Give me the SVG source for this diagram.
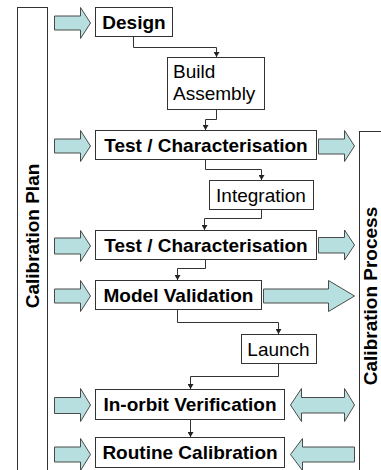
<svg xmlns="http://www.w3.org/2000/svg" width="381" height="470" viewBox="0 0 381 470">
  <style>
    .box { fill: #ffffff; stroke: #333333; stroke-width: 1; }
    .frame { fill: #ffffff; stroke: #333333; stroke-width: 1; }
    .blk { fill: #b7dfe0; stroke: #4a4a4a; stroke-width: 1; stroke-linejoin: miter; }
    .bold { font-family: "Liberation Sans", Arial, sans-serif; font-weight: bold; font-size: 19px; fill: #000; text-anchor: middle; }
    .reg { font-family: "Liberation Sans", Arial, sans-serif; font-size: 19px; fill: #000; }
    .side { font-family: "Liberation Sans", Arial, sans-serif; font-weight: bold; font-size: 19px; fill: #000; text-anchor: middle; }
    .conn { fill: none; stroke: #333333; stroke-width: 1; }
  </style>
  <defs>
    <marker id="tip" markerUnits="userSpaceOnUse" markerWidth="6" markerHeight="6" refX="5" refY="3" orient="auto">
      <path d="M0,0 L5,3 L0,6 Z" fill="#222222"/>
    </marker>
  </defs>

  <rect width="381" height="470" fill="#ffffff"/>

  <!-- side frames -->
  <g id="calibration-plan">
    <rect class="frame" x="17.5" y="7.5" width="30" height="480"/>
    <text class="side" transform="translate(39,236) rotate(-90)">Calibration Plan</text>
  </g>
  <g id="calibration-process">
    <rect class="frame" x="359.5" y="131.5" width="40" height="360"/>
    <text class="side" transform="translate(377,296) rotate(-90)">Calibration Process</text>
  </g>

  <!-- flow connectors -->
  <g id="connectors">
    <polyline class="conn" points="133.5,36 133.5,47.5 216.5,47.5 216.5,57" marker-end="url(#tip)"/>
    <polyline class="conn" points="216.5,109 216.5,119.5 205.5,119.5 205.5,130" marker-end="url(#tip)"/>
    <polyline class="conn" points="205.5,159 205.5,169.5 261.5,169.5 261.5,180" marker-end="url(#tip)"/>
    <polyline class="conn" points="261.5,209 261.5,218.5 204.5,218.5 204.5,230" marker-end="url(#tip)"/>
    <polyline class="conn" points="205.5,259 205.5,268.5 177.5,268.5 177.5,280" marker-end="url(#tip)"/>
    <polyline class="conn" points="177.5,309 177.5,322.5 278.5,322.5 278.5,334" marker-end="url(#tip)"/>
    <polyline class="conn" points="278.5,364 278.5,376.5 190.5,376.5 190.5,389" marker-end="url(#tip)"/>
    <polyline class="conn" points="190.5,420 190.5,437" marker-end="url(#tip)"/>
  </g>

  <!-- block arrows from the plan -->
  <g id="plan-arrows">
    <polygon class="blk" points="54.5,16 80.5,16 80.5,7.5 90.5,23 80.5,38.5 80.5,30 54.5,30"/>
    <polygon class="blk" points="54.5,139 80.5,139 80.5,130.5 90.5,146 80.5,161.5 80.5,153 54.5,153"/>
    <polygon class="blk" points="54.5,238 80.5,238 80.5,230.5 90.5,246 80.5,261.5 80.5,254 54.5,254"/>
    <polygon class="blk" points="54.5,289 80.5,289 80.5,280.5 90.5,296 80.5,311.5 80.5,303 54.5,303"/>
    <polygon class="blk" points="54.5,397.5 80.5,397.5 80.5,388.5 90.5,405 80.5,421.5 80.5,413.5 54.5,413.5"/>
    <polygon class="blk" points="54.5,447 80.5,447 80.5,438.5 90.5,454.5 80.5,470.5 80.5,462 54.5,462"/>
  </g>

  <!-- block arrows to and from the process -->
  <g id="process-arrows">
    <polygon class="blk" points="318.5,139 344.5,139 344.5,130.5 354.5,146 344.5,161.5 344.5,154 318.5,154"/>
    <polygon class="blk" points="318.5,237.5 344.5,237.5 344.5,230 354.5,245 344.5,260 344.5,253 318.5,253"/>
    <polygon class="blk" points="263.5,289 328.5,289 328.5,280.5 354.5,296 328.5,311.5 328.5,303 263.5,303"/>
    <polygon class="blk" points="290.5,405 301.5,388.5 301.5,397.5 344.5,397.5 344.5,388.5 354.5,405 344.5,421.5 344.5,413 301.5,413 301.5,421.5"/>
    <polygon class="blk" points="290.5,454.5 302.5,438.5 302.5,447 354.5,447 354.5,462 302.5,462 302.5,470.5"/>
  </g>

  <!-- process steps -->
  <g id="design">
    <rect class="box" x="95.5" y="7.5" width="77" height="29"/>
    <text class="bold" x="134" y="28.5">Design</text>
  </g>
  <g id="build-assembly">
    <rect class="box" x="167.5" y="57.5" width="97" height="52"/>
    <text class="reg" x="173" y="78">Build</text>
    <text class="reg" x="173" y="100">Assembly</text>
  </g>
  <g id="test-characterisation-1">
    <rect class="box" x="95.5" y="130.5" width="221" height="29"/>
    <text class="bold" x="206" y="151.5">Test / Characterisation</text>
  </g>
  <g id="integration">
    <rect class="box" x="209.5" y="180.5" width="104" height="29"/>
    <text class="reg" x="261" y="201.5" text-anchor="middle">Integration</text>
  </g>
  <g id="test-characterisation-2">
    <rect class="box" x="95.5" y="230.5" width="221" height="29"/>
    <text class="bold" x="206" y="251.5">Test / Characterisation</text>
  </g>
  <g id="model-validation">
    <rect class="box" x="95.5" y="280.5" width="166" height="29"/>
    <text class="bold" x="178.5" y="301.5">Model Validation</text>
  </g>
  <g id="launch">
    <rect class="box" x="241.5" y="334.5" width="75" height="29"/>
    <text class="reg" x="278.5" y="355.5" text-anchor="middle">Launch</text>
  </g>
  <g id="in-orbit-verification">
    <rect class="box" x="95.5" y="389.5" width="189" height="30"/>
    <text class="bold" x="190" y="411">In-orbit Verification</text>
  </g>
  <g id="routine-calibration">
    <rect class="box" x="95.5" y="437.5" width="189" height="30"/>
    <text class="bold" x="190" y="459">Routine Calibration</text>
  </g>
</svg>
